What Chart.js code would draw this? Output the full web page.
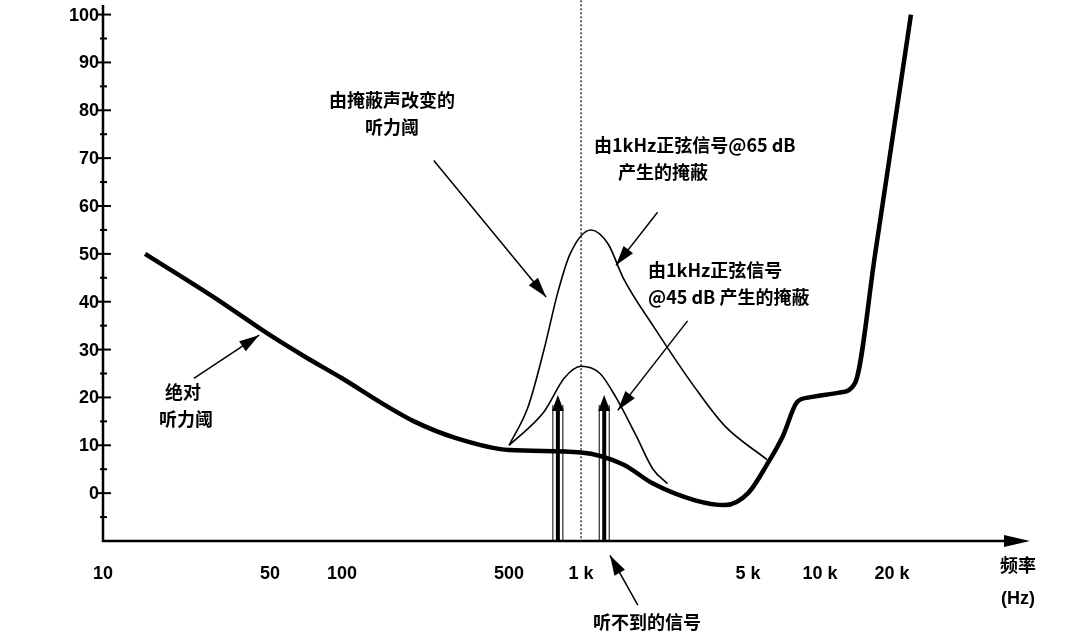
<!DOCTYPE html>
<html><head><meta charset="utf-8">
<script src="https://cdn.jsdelivr.net/npm/chart.js@4"></script>
<style>body{margin:0;background:#fff}#wrap{width:1069px;height:644px}</style>
</head><body><div id="wrap"><canvas id="c"></canvas></div>
<script>
// 频率 (Hz) / 声压级 (dB)
const absFreq = [15, 30, 50, 70, 100, 150, 200, 300, 500, 1000, 1500, 2000, 3000, 4000, 5000, 6000, 7000, 8000, 9000, 12000, 14000, 17000, 24000]
const absLevel = [50, 40.5, 33, 28.5, 24, 18.5, 15, 11.5, 9, 8.5, 6, 2, -1.5, -2.5, 0, 6, 12, 19, 20, 21, 23, 50, 100]
const mask65Freq = [500, 600, 700, 800, 900, 1100, 1300, 1500, 2000, 3000, 4000, 6000]
const mask65Level = [10, 18, 30, 42, 50, 55, 52, 45, 35, 22, 14, 7]
const mask45Freq = [500, 700, 850, 1000, 1200, 1400, 1700, 2000, 2300]
const mask45Level = [10, 17, 24, 26.5, 25, 20, 12, 5, 2]
const signalFreq = [800, 1250]
const signalLevel = 20.5
const xTicks = [10, 50, 100, 500, 1000, 5000, 10000, 20000]
const xTickLabels = ['10', '50', '100', '500', '1 k', '5 k', '10 k', '20 k']
const yTicks = [0, 10, 20, 30, 40, 50, 60, 70, 80, 90, 100]

const pts = (xs, ys) => xs.map((x, i) => ({x: x, y: ys[i]}))
const cjk = '"Noto Sans CJK SC", sans-serif'

// 注释箭头 [起点频率, 起点dB, 终点频率, 终点dB]
const arrows = [
    [242, 69.5, 714, 41],
    [2090, 58.7, 1400, 47.6],
    [2790, 36, 1425, 17.3],
    [24, 24, 45, 33],
    [1728, -23.4, 1321, -13]
]

function arrowHead(ctx, x1, y1, x2, y2, len, w) {
    const a = Math.atan2(y2 - y1, x2 - x1)
    ctx.beginPath()
    ctx.moveTo(x2, y2)
    ctx.lineTo(x2 - len * Math.cos(a) + w * Math.sin(a), y2 - len * Math.sin(a) - w * Math.cos(a))
    ctx.lineTo(x2 - len * Math.cos(a) - w * Math.sin(a), y2 - len * Math.sin(a) + w * Math.cos(a))
    ctx.closePath()
    ctx.fill()
}

const deco = {
    id: 'deco',
    afterDraw(chart) {
        const ctx = chart.ctx
        const xs = chart.scales.x, ys = chart.scales.y
        const area = chart.chartArea
        const X = v => xs.getPixelForValue(v), Y = v => ys.getPixelForValue(v)
        ctx.save()
        ctx.strokeStyle = '#000'
        ctx.fillStyle = '#000'
        // 轴
        ctx.lineWidth = 2.5
        ctx.beginPath()
        ctx.moveTo(area.left, area.top); ctx.lineTo(area.left, area.bottom)
        ctx.lineTo(area.right - 10, area.bottom)
        ctx.stroke()
        arrowHead(ctx, area.left, area.bottom, area.right + 5, area.bottom, 26, 6)
        ctx.lineWidth = 2
        ctx.font = 'bold 18px "Liberation Sans", Arial, sans-serif'
        ctx.textAlign = 'right'; ctx.textBaseline = 'middle'
        yTicks.forEach(t => {
            const y = Y(t)
            ctx.beginPath(); ctx.moveTo(area.left - 6, y); ctx.lineTo(area.left + 8, y); ctx.stroke()
            ctx.fillText(String(t), area.left - 4, y + 1)
        })
        for (let t = -5; t < 100; t += 10) {
            const y = Y(t)
            ctx.beginPath(); ctx.moveTo(area.left - 3, y); ctx.lineTo(area.left + 4, y); ctx.stroke()
        }
        ctx.textAlign = 'center'; ctx.textBaseline = 'top'
        xTicks.forEach((t, i) => ctx.fillText(xTickLabels[i], X(t), area.bottom + 24))
        ctx.fillText('(Hz)', 1018, 590)
        // 1 kHz 虚线
        ctx.lineWidth = 1.2
        ctx.setLineDash([2, 2])
        ctx.beginPath(); ctx.moveTo(X(1000), Y(103)); ctx.lineTo(X(1000), area.bottom); ctx.stroke()
        ctx.setLineDash([])
        // 信号箭头
        signalFreq.forEach(f => {
            const x = X(f)
            ctx.lineWidth = 4
            ctx.beginPath(); ctx.moveTo(x, area.bottom); ctx.lineTo(x, Y(signalLevel) + 12); ctx.stroke()
            ctx.lineWidth = 1
            ctx.beginPath(); ctx.moveTo(x - 5, area.bottom); ctx.lineTo(x - 5, Y(signalLevel) + 10); ctx.stroke()
            ctx.beginPath(); ctx.moveTo(x + 5, area.bottom); ctx.lineTo(x + 5, Y(signalLevel) + 10); ctx.stroke()
            arrowHead(ctx, x, area.bottom, x, Y(signalLevel), 16, 6)
        })
        // 注释箭头
        ctx.lineWidth = 1.5
        arrows.forEach(a => {
            const x1 = X(a[0]), y1 = Y(a[1]), x2 = X(a[2]), y2 = Y(a[3])
            ctx.beginPath(); ctx.moveTo(x1, y1); ctx.lineTo(x2, y2); ctx.stroke()
            arrowHead(ctx, x1, y1, x2, y2, 20, 6)
        })
        // 文字
        ctx.font = 'bold 18px ' + cjk
        ctx.textAlign = 'center'; ctx.textBaseline = 'middle'
        ctx.fillText('由掩蔽声改变的', 392, 100)
        ctx.fillText('听力阈', 392, 127)
        ctx.fillText('绝对', 183, 392)
        ctx.fillText('听力阈', 186, 419)
        ctx.fillText('听不到的信号', 647, 622)
        ctx.fillText('频率', 1018, 565)
        ctx.textAlign = 'left'
        ctx.fillText('由1kHz正弦信号@65 dB', 594, 145)
        ctx.fillText('产生的掩蔽', 618, 172)
        ctx.fillText('由1kHz正弦信号', 648, 270)
        ctx.fillText('@45 dB 产生的掩蔽', 648, 297)
        ctx.restore()
    }
}

new Chart(document.getElementById('c'), {
    type: 'scatter',
    data: {
        datasets: [
            {data: pts(absFreq, absLevel), showLine: true, borderColor: '#000', borderWidth: 4.5, pointRadius: 0, cubicInterpolationMode: 'monotone'},
            {data: pts(mask65Freq, mask65Level), showLine: true, borderColor: '#000', borderWidth: 1.6, pointRadius: 0, cubicInterpolationMode: 'monotone'},
            {data: pts(mask45Freq, mask45Level), showLine: true, borderColor: '#000', borderWidth: 1.6, pointRadius: 0, cubicInterpolationMode: 'monotone'}
        ]
    },
    options: {
        responsive: true, maintainAspectRatio: false, animation: false,
        layout: {padding: {left: 103, right: 44, top: 5, bottom: 103}},
        plugins: {legend: {display: false}, tooltip: {enabled: false}},
        scales: {
            x: {type: 'logarithmic', min: 10, max: 72000, display: false},
            y: {min: -10, max: 102, display: false}
        }
    },
    plugins: [deco]
})
</script></body></html>
